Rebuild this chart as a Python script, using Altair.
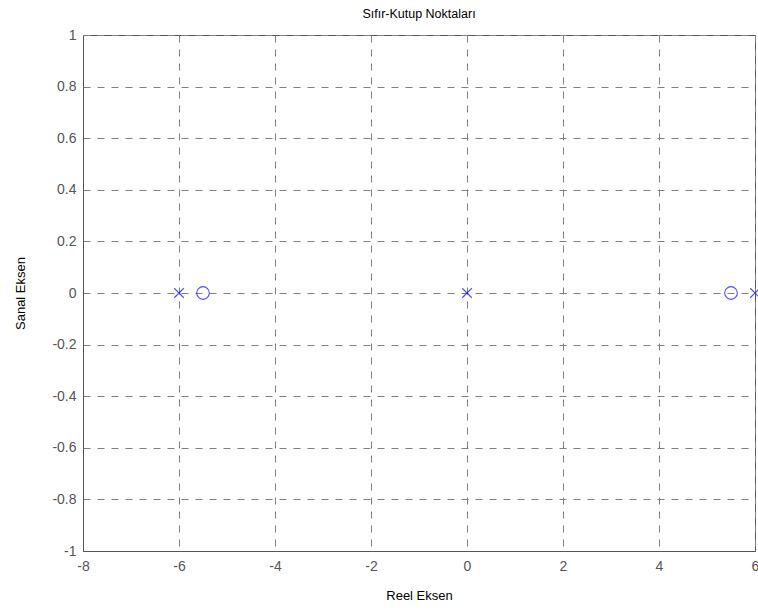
import altair as alt
import pandas as pd

# Pole and zero locations in the complex plane
pole_re = [-6, 0, 6]
pole_im = [0, 0, 0]
zero_re = [-5.5, 5.5]
zero_im = [0, 0]

x_ticks = [-8, -6, -4, -2, 0, 2, 4, 6]
y_ticks = [-1, -0.8, -0.6, -0.4, -0.2, 0, 0.2, 0.4, 0.6, 0.8, 1]

poles = pd.DataFrame({"re": pole_re, "im": pole_im})
zeros = pd.DataFrame({"re": zero_re, "im": zero_im})

FONT = "Liberation Sans"
AX = "#555555"
LABEL = "toString(datum.value)"

x_enc = alt.X(
    "re:Q",
    scale=alt.Scale(domain=[-8, 6], nice=False, zero=False),
    axis=alt.Axis(
        title="Reel Eksen", values=x_ticks, labelExpr=LABEL, ticks=False,
        labelFlush=False, labelPadding=8, titlePadding=16,
    ),
)
y_enc = alt.Y(
    "im:Q",
    scale=alt.Scale(domain=[-1, 1], nice=False),
    axis=alt.Axis(
        title="Sanal Eksen", values=y_ticks, labelExpr=LABEL, ticks=False,
        labelFlush=False, labelPadding=7, titlePadding=24,
    ),
)

# poles drawn as "x" markers
x_path = "M-1,-1L1,1M-1,1L1,-1"
pole_layer = alt.Chart(poles).mark_point(
    shape=x_path, filled=False, color="#0000ff", size=90, strokeWidth=1.1, clip=False
).encode(x=x_enc, y=y_enc)

# zeros drawn as open circles
zero_layer = alt.Chart(zeros).mark_point(
    shape="circle", filled=False, color="#0000ff", size=160, strokeWidth=1.1
).encode(x=x_enc, y=y_enc)

chart = (
    alt.layer(pole_layer, zero_layer)
    .properties(
        width=672,
        height=516,
        background="white",
        title=alt.TitleParams("Sıfır-Kutup Noktaları", fontSize=12.5, font=FONT,
                              fontWeight="normal", color="#000000", offset=8),
        autosize=alt.AutoSizeParams(type="none"),
        padding={"left": 83, "top": 35, "right": 3, "bottom": 59},
    )
    .configure_view(stroke=AX, strokeWidth=1)
    .configure_axis(
        grid=True,
        gridColor="#808080",
        gridDash=[7, 7],
        gridWidth=1,
        domainColor=AX,
        labelColor=AX,
        labelFont=FONT,
        labelFontSize=14,
        titleFont=FONT,
        titleFontSize=13,
        titleFontWeight="normal",
        titleColor="#000000",
    )
)

chart.save("out.html", embed_options={"renderer": "svg", "actions": False})
